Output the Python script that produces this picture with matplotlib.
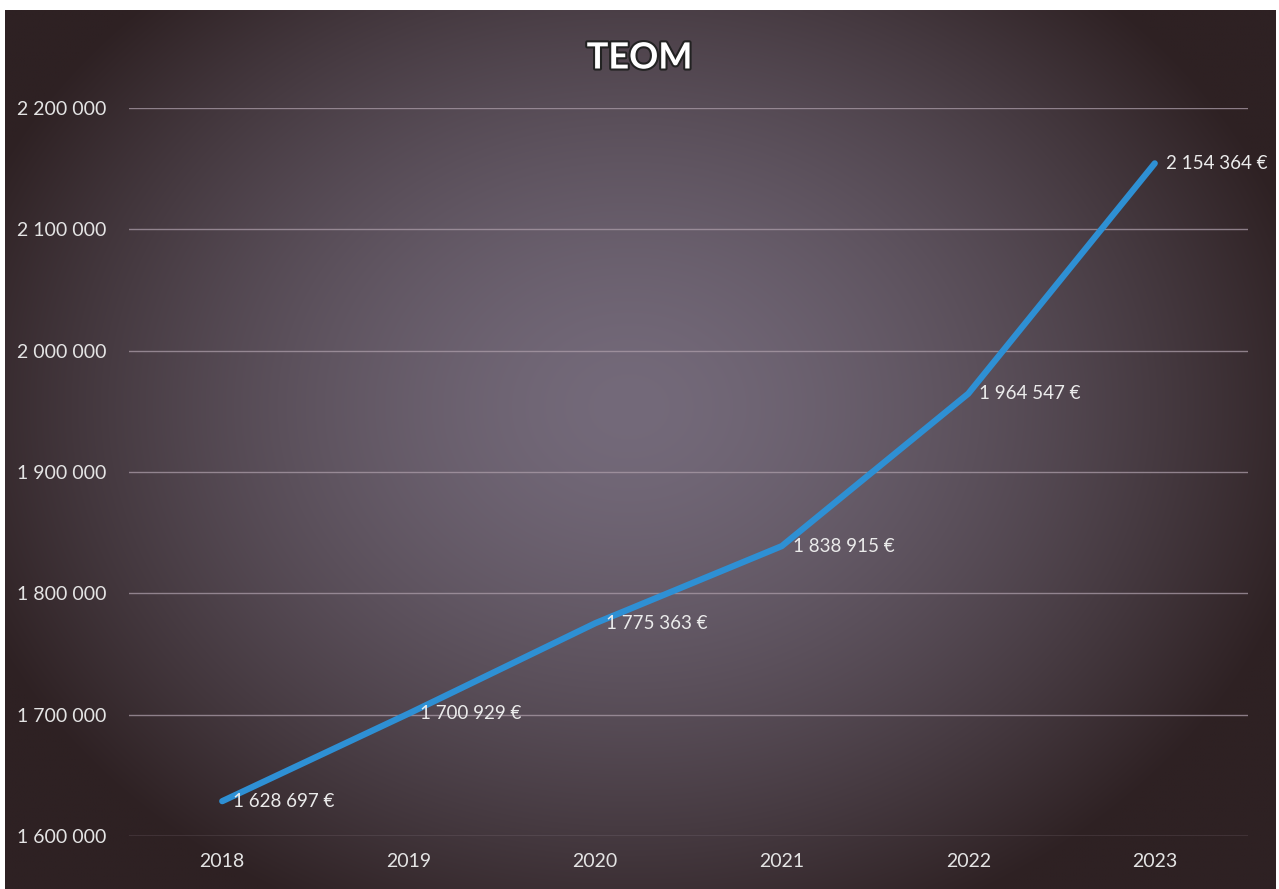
import matplotlib.pyplot as plt
import matplotlib.patheffects as pe
import numpy as np

# data
years = ['2018', '2019', '2020', '2021', '2022', '2023']
teom = [1628697, 1700929, 1775363, 1838915, 1964547, 2154364]
y_ticks = [1600000, 1700000, 1800000, 1900000, 2000000, 2100000, 2200000]


def fr(v):
    return f"{v:,}".replace(",", " ")


plt.rcParams['font.family'] = ['Lato', 'DejaVu Sans']

fig = plt.figure(figsize=(12.79, 8.89), dpi=100)
fig.patch.set_facecolor('white')

# background with a soft radial gradient
bg = fig.add_axes([5 / 1279, 0, 1271 / 1279, 879 / 889])
bg.set_axis_off()
h, w = 300, 430
yy, xx = np.mgrid[0:h, 0:w]
cx, cy = w * 0.49, h * 0.45
r = np.sqrt(((xx - cx) / (w * 0.55)) ** 2 + ((yy - cy) / (h * 0.64)) ** 2)
t = np.clip(r, 0, 1) ** 1.5
center = np.array([116, 106, 122]) / 255
edge = np.array([46, 33, 35]) / 255
img = center[None, None, :] * (1 - t[..., None]) + edge[None, None, :] * t[..., None]
bg.imshow(img, aspect='auto', extent=[0, 1, 0, 1], interpolation='bilinear')
bg.set_xlim(0, 1)
bg.set_ylim(0, 1)

ax = fig.add_axes([129 / 1279, 1 - 836 / 889, 1119 / 1279, 728 / 889])
ax.patch.set_alpha(0)
x = np.arange(len(years))
ax.plot(x, teom, color='#2e90d4', linewidth=4.5, solid_capstyle='round', zorder=3)

for xi, v in zip(x, teom):
    ax.annotate(f"{fr(v)} €", (xi, v), xytext=(8, 0), textcoords='offset points',
                ha='left', va='center', color='#ebebeb', fontsize=13.5, zorder=4)

ax.set_xlim(-0.5, len(years) - 0.5)
ax.set_ylim(1600000, 2200000)
ax.set_xticks(x)
ax.set_xticklabels(years)
ax.set_yticks(y_ticks)
ax.set_yticklabels([fr(v) for v in y_ticks])
ax.tick_params(length=0, colors='#e4e4e4', labelsize=14)
ax.tick_params(axis='y', pad=16)
ax.tick_params(axis='x', pad=12)
ax.grid(axis='y', color='#ab9ca8', linewidth=1, alpha=0.75)
for s in ax.spines.values():
    s.set_visible(False)

fig.text(0.5, 1 - 58 / 889, 'TEOM', ha='center', va='center', color='white',
         fontsize=26, fontweight='bold',
         path_effects=[pe.withStroke(linewidth=3, foreground='#222222')])

fig.savefig('out.png', dpi=100)
